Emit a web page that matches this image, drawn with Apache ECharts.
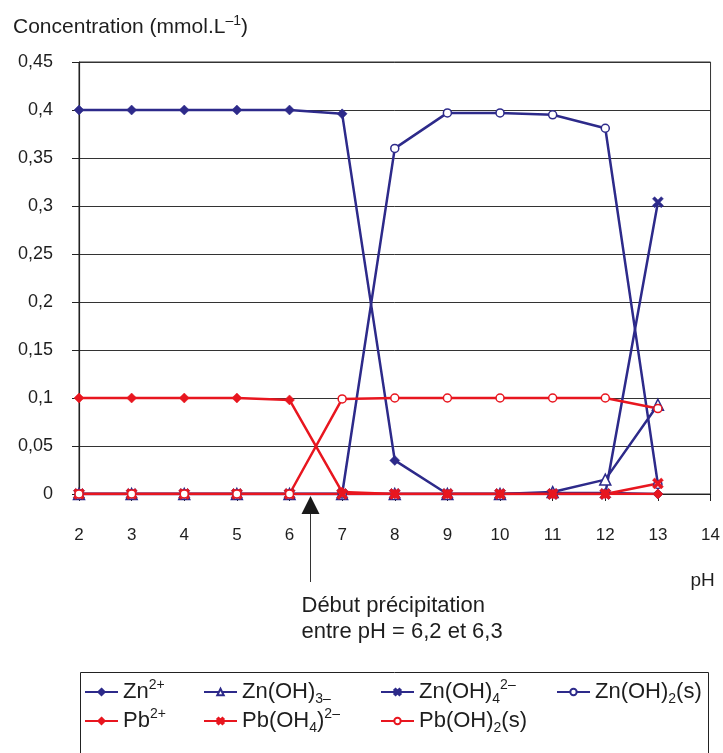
<!DOCTYPE html>
<html>
<head>
<meta charset="utf-8">
<script src="https://cdn.jsdelivr.net/npm/echarts@6/dist/echarts.min.js"></script>
<style>
  body { margin: 0; background: #fff; }
  #main { width: 723px; height: 753px; }
</style>
</head>
<body>
<div id="main"></div>
<script>
// pH values and concentrations (mmol/L)
var pH       = [2, 3, 4, 5, 6, 7, 8, 9, 10, 11, 12, 13];
var zn2      = [0.4, 0.4, 0.4, 0.4, 0.4, 0.396, 0.035, 0, 0, 0.001, 0.001, 0];
var znOH3    = [0, 0, 0, 0, 0, 0, 0, 0, 0, 0.002, 0.015, 0.093];
var znOH4    = [0, 0, 0, 0, 0, 0, 0, 0, 0, 0, 0, 0.304];
var znOH2s   = [0, 0, 0, 0, 0, 0, 0.36, 0.397, 0.397, 0.395, 0.381, 0.01];
var pb2      = [0.1, 0.1, 0.1, 0.1, 0.098, 0.002, 0, 0, 0, 0, 0, 0];
var pbOH4    = [0, 0, 0, 0, 0, 0, 0, 0, 0, 0, 0, 0.011];
var pbOH2s   = [0, 0, 0, 0, 0, 0.099, 0.1, 0.1, 0.1, 0.1, 0.1, 0.089];

var arrowPH = 6.38;

var BLUE = '#2d2a8a';
var RED = '#e8161f';
var FONT = 'Liberation Sans, Arial, sans-serif';

var xSym = 'path://M0,2 L2,0 L5,3 L8,0 L10,2 L7,5 L10,8 L8,10 L5,7 L2,10 L0,8 L3,5 Z';

function pairs(ys) {
	var out = [];
	for (var i = 0; i < pH.length; i++) {
		out.push([pH[i], ys[i]]);
	}
	return out;
}

var labels = {
	'Zn2+': 'Zn{sup|2+}',
	'Zn(OH)3-': 'Zn(OH){sub|3–}',
	'Zn(OH)4 2-': 'Zn(OH){sub|4}{sup|2–}',
	'Zn(OH)2(s)': 'Zn(OH){sub|2}(s)',
	'Pb2+': 'Pb{sup|2+}',
	'Pb(OH4)2-': 'Pb(OH{sub|4}){sup|2–}',
	'Pb(OH)2(s)': 'Pb(OH){sub|2}(s)'
};

function richFor(size) {
	return {
		sup: { fontSize: size, verticalAlign: 'top', lineHeight: size + 1, fontFamily: FONT, color: '#1e1e1e' },
		sub: { fontSize: size, verticalAlign: 'bottom', lineHeight: size + 1, fontFamily: FONT, color: '#1e1e1e' }
	};
}

function mkSeries(name, ys, color, symbol, size, hollow) {
	return {
		name: name,
		type: 'line',
		data: pairs(ys),
		symbol: symbol,
		symbolSize: size,
		showAllSymbol: true,
		lineStyle: { color: color, width: 2.5 },
		itemStyle: {
			color: hollow ? '#fff' : color,
			borderColor: color,
			borderWidth: hollow ? 1.5 : 0.5
		},
		emphasis: { disabled: true },
		animation: false
	};
}

// legend entries: [name, left of icon, top]
var legendPos = [
	['Zn2+', 84, 678], ['Zn(OH)3-', 203, 678], ['Zn(OH)4 2-', 380, 678], ['Zn(OH)2(s)', 556, 678],
	['Pb2+', 84, 707], ['Pb(OH4)2-', 203, 707], ['Pb(OH)2(s)', 380, 707]
];

var legends = legendPos.map(function (p) {
	return {
		data: [p[0]],
		left: p[1],
		top: p[2],
		itemWidth: 33,
		itemHeight: 8,
		itemGap: 0,
		padding: 0,
		selectedMode: false,
		formatter: function (n) { return labels[n]; },
		textStyle: {
			fontFamily: FONT, fontSize: 22, color: '#1e1e1e', lineHeight: 28,
			rich: richFor(14)
		}
	};
});

var chart = echarts.init(document.getElementById('main'));

var option = {
	backgroundColor: '#fff',
	animation: false,
	title: {
		text: 'Concentration (mmol.L{sup|–1})',
		left: 8,
		top: 9,
		textStyle: {
			fontFamily: FONT, fontSize: 21, fontWeight: 'normal', color: '#1e1e1e', lineHeight: 27,
			rich: richFor(14)
		}
	},
	legend: legends,
	grid: {
		left: 79, right: 11, top: 62, bottom: 259,
		show: true, borderColor: '#333', borderWidth: 1
	},
	xAxis: {
		type: 'value',
		min: 2, max: 14, interval: 1,
		name: 'pH',
		nameLocation: 'end',
		nameGap: -8,
		nameTextStyle: {
			fontFamily: FONT, fontSize: 19, color: '#1e1e1e',
			align: 'center', verticalAlign: 'top', padding: [77, 0, 0, 0]
		},
		axisLine: { onZero: false, lineStyle: { color: '#222', width: 1.2 } },
		axisTick: { show: true, length: 7, lineStyle: { color: '#222' } },
		splitLine: { show: false },
		axisLabel: { fontFamily: FONT, fontSize: 17, color: '#1e1e1e', margin: 33 }
	},
	yAxis: {
		type: 'value',
		min: 0, max: 0.45, interval: 0.05,
		axisLine: { show: true, lineStyle: { color: '#222', width: 1.2 } },
		axisTick: { show: true, length: 7, lineStyle: { color: '#222' } },
		splitLine: { show: true, lineStyle: { color: '#333', width: 1 } },
		axisLabel: {
			fontFamily: FONT, fontSize: 18, color: '#1e1e1e', margin: 26,
			formatter: function (v) { return String(Math.round(v * 100) / 100).replace('.', ','); }
		}
	},
	series: [
		mkSeries('Zn2+', zn2, BLUE, 'diamond', 10, false),
		mkSeries('Zn(OH)3-', znOH3, BLUE, 'triangle', 11, true),
		mkSeries('Zn(OH)4 2-', znOH4, BLUE, xSym, 11, false),
		mkSeries('Zn(OH)2(s)', znOH2s, BLUE, 'circle', 8, true),
		mkSeries('Pb2+', pb2, RED, 'diamond', 10, false),
		mkSeries('Pb(OH4)2-', pbOH4, RED, xSym, 11, false),
		mkSeries('Pb(OH)2(s)', pbOH2s, RED, 'circle', 8, true)
	]
};

chart.setOption(option);

// annotation arrow + note, positioned through the chart's scales
var base = chart.convertToPixel({ gridIndex: 0 }, [arrowPH, 0]);
var ax = Math.round(base[0]) + 0.5;
var ay = base[1];
chart.setOption({
	graphic: [
		{
			type: 'polygon',
			shape: { points: [[ax, ay + 2], [ax - 9, ay + 20], [ax + 9, ay + 20]] },
			style: { fill: '#1a1a1a' }
		},
		{
			type: 'line',
			shape: { x1: ax, y1: ay + 20, x2: ax, y2: ay + 88 },
			style: { stroke: '#333', lineWidth: 1 }
		},
		{
			type: 'text',
			left: ax - 9,
			top: ay + 99,
			style: {
				text: 'Début précipitation\nentre pH = 6,2 et 6,3',
				font: '22px ' + FONT,
				fill: '#1e1e1e',
				lineHeight: 26
			}
		},
		{
			type: 'rect',
			shape: { x: 80.5, y: 672.5, width: 628, height: 100 },
			style: { fill: 'none', stroke: '#222', lineWidth: 1 },
			z: -1
		}
	]
});
</script>
</body>
</html>
